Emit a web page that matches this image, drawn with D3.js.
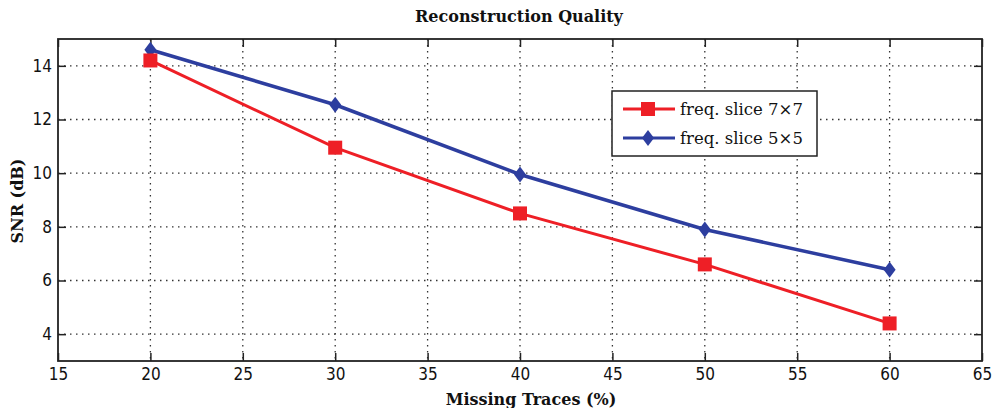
<!DOCTYPE html>
<html>
  <head>
    <meta charset="UTF-8" />
    <script src="https://cdnjs.cloudflare.com/ajax/libs/d3/7.8.5/d3.min.js"></script>
    <style>
      body { margin: 0; background: #fff; }
      .tick text { font-family: "DejaVu Sans Condensed", "DejaVu Sans", sans-serif; font-stretch: condensed; font-size: 17px; fill: #111; }
      .grid line { stroke: #333; stroke-dasharray: 1.5 4.5; stroke-width: 1.3; }
      .serif { font-family: "DejaVu Serif", serif; fill: #111; }
    </style>
  </head>
  <body>
    <svg id="chart" width="994" height="408"></svg>
    <script>
      const xVals = [20, 30, 40, 50, 60];
      const red77 = [14.2, 10.95, 8.5, 6.6, 4.4];
      const blue55 = [14.6, 12.55, 9.95, 7.9, 6.4];
      const xTicks = [15, 20, 25, 30, 35, 40, 45, 50, 55, 60, 65];
      const yTicks = [4, 6, 8, 10, 12, 14];
      const seriesNames = ["freq. slice 7\u00d77", "freq. slice 5\u00d75"];

      const svg = d3.select("#chart");
      const pL = 58, pR = 982, pT = 39, pB = 361;

      const x = d3.scaleLinear().domain([15, 65]).range([pL, pR]);
      const y = d3.scaleLinear().domain([3, 15]).range([pB, pT]);

      // grid
      const grid = svg.append("g").attr("class", "grid");
      grid.selectAll(".gx").data(xTicks.slice(1, -1)).enter().append("line")
        .attr("x1", d => x(d)).attr("x2", d => x(d))
        .attr("y1", pT).attr("y2", pB);
      grid.selectAll(".gy").data(yTicks).enter().append("line")
        .attr("y1", d => y(d)).attr("y2", d => y(d))
        .attr("x1", pL).attr("x2", pR);

      // axes (ticks point inward like matlab)
      svg.append("g").attr("transform", `translate(0,${pB})`)
        .call(d3.axisBottom(x).tickValues(xTicks).tickSizeInner(-8).tickSizeOuter(0).tickPadding(7));
      svg.append("g").attr("transform", `translate(${pL},0)`)
        .call(d3.axisLeft(y).tickValues(yTicks).tickSizeInner(-8).tickSizeOuter(0).tickPadding(6));
      svg.append("g").attr("transform", `translate(0,${pT})`)
        .call(d3.axisTop(x).tickValues(xTicks).tickSizeInner(-8).tickSizeOuter(0).tickFormat(""));
      svg.append("g").attr("transform", `translate(${pR},0)`)
        .call(d3.axisRight(y).tickValues(yTicks).tickSizeInner(-8).tickSizeOuter(0).tickFormat(""));
      svg.selectAll(".domain").remove();
      svg.selectAll(".tick line").attr("stroke", "#222").attr("stroke-width", 1.5);
      svg.append("rect").attr("x", pL).attr("y", pT)
        .attr("width", pR - pL).attr("height", pB - pT)
        .attr("fill", "none").attr("stroke", "#222").attr("stroke-width", 1.8);

      const line = d3.line().x((d, i) => x(xVals[i])).y(d => y(d));

      svg.append("path").datum(blue55).attr("d", line)
        .attr("fill", "none").attr("stroke", "#2d3e9f").attr("stroke-width", 3.5);
      svg.append("path").datum(red77).attr("d", line)
        .attr("fill", "none").attr("stroke", "#ee1f26").attr("stroke-width", 3);

      // matlab-ish diamond: taller than wide
      const diamond = "M0,-8L6,0L0,8L-6,0Z";
      svg.selectAll(".bm").data(blue55).enter().append("path")
        .attr("transform", (d, i) => `translate(${x(xVals[i])},${y(d)})`)
        .attr("d", diamond).attr("fill", "#2d3e9f");
      svg.selectAll(".rm").data(red77).enter().append("rect")
        .attr("x", (d, i) => x(xVals[i]) - 7).attr("y", d => y(d) - 7)
        .attr("width", 14).attr("height", 14).attr("fill", "#ee1f26");

      // legend
      const lg = svg.append("g").attr("transform", "translate(612,91)");
      lg.append("rect").attr("width", 205).attr("height", 65)
        .attr("fill", "#fff").attr("stroke", "#222").attr("stroke-width", 1.5);
      const colors = ["#ee1f26", "#2d3e9f"];
      seriesNames.forEach((name, i) => {
        const yy = 18 + i * 29;
        lg.append("line").attr("x1", 11).attr("x2", 63).attr("y1", yy).attr("y2", yy)
          .attr("stroke", colors[i]).attr("stroke-width", 3);
        if (i === 0) {
          lg.append("rect").attr("x", 29).attr("y", yy - 7).attr("width", 14).attr("height", 14)
            .attr("fill", colors[i]);
        } else {
          lg.append("path").attr("transform", `translate(36,${yy})`).attr("d", diamond).attr("fill", colors[i]);
        }
        lg.append("text").attr("class", "serif").attr("x", 68).attr("y", yy + 6)
          .style("font-size", "16.5px").text(name);
      });

      // titles
      svg.append("text").attr("class", "serif").attr("x", 519).attr("y", 22)
        .attr("text-anchor", "middle").style("font-size", "16px").style("font-weight", "bold")
        .text("Reconstruction Quality");
      svg.append("text").attr("class", "serif").attr("x", 531).attr("y", 405)
        .attr("text-anchor", "middle").style("font-size", "16px").style("font-weight", "bold")
        .text("Missing Traces (%)");
      svg.append("text").attr("class", "serif")
        .attr("transform", `translate(23,${(pT + pB) / 2 + 1}) rotate(-90)`)
        .attr("text-anchor", "middle").style("font-size", "16px").style("font-weight", "bold")
        .text("SNR (dB)");
    </script>
  </body>
</html>
